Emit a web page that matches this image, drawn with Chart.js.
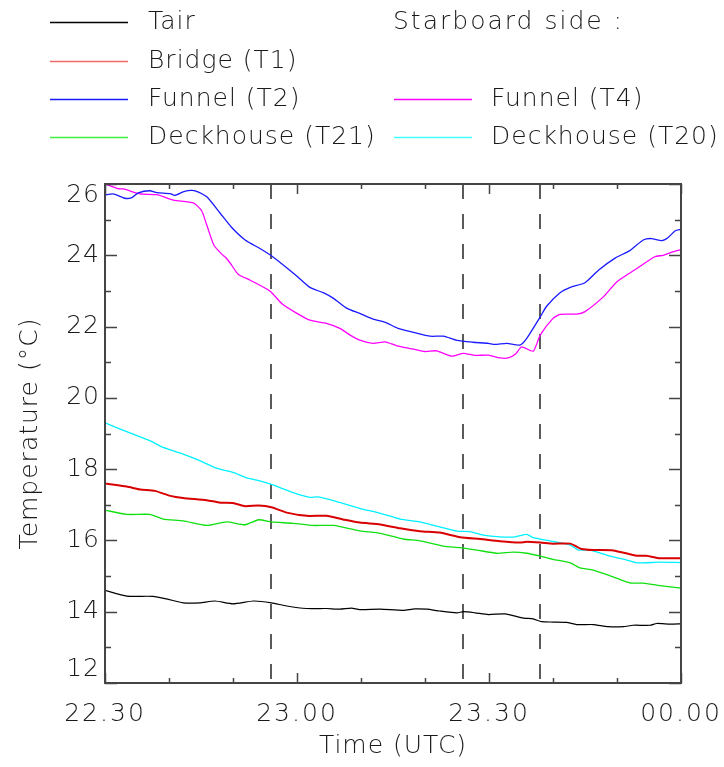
<!DOCTYPE html>
<html>
<head>
<meta charset="utf-8">
<script src="https://cdn.jsdelivr.net/npm/chart.js@4"></script>
<style>
  html, body { margin: 0; padding: 0; background: #fff; }
  canvas { display: block; }
</style>
</head>
<body>
<canvas id="temps" width="724" height="767"></canvas>
<script>
// Datos: minutos desde las 22:30 UTC y temperatura (°C)
const xTickValues = [0, 30, 60, 90];
const xTickLabels = ['22.30', '23.00', '23.30', '00.00'];
const yTickValues = [12, 14, 16, 18, 20, 22, 24, 26];
const markerTimes = [26, 56, 68];

const tairMin = [0, 3.4, 7.5, 9.6, 12.2, 14.8, 17.2, 20.0, 23.2, 26.0, 28.4, 31.5, 34.6, 36.7, 38.5, 39.8, 43.0, 46.6, 48.4, 50.3, 52.3, 55.0, 56.0, 57.8, 59.9, 62.5, 65.4, 66.9, 68.2, 70.0, 72.1, 73.7, 76.3, 78.6, 81.0, 82.5, 85.2, 86.2, 88.3, 90];
const tair = [14.6, 14.44, 14.43, 14.36, 14.25, 14.25, 14.3, 14.22, 14.3, 14.25, 14.16, 14.09, 14.09, 14.07, 14.1, 14.06, 14.07, 14.04, 14.08, 14.07, 14.02, 13.97, 14.0, 13.97, 13.92, 13.94, 13.82, 13.8, 13.72, 13.71, 13.7, 13.64, 13.64, 13.58, 13.58, 13.62, 13.62, 13.67, 13.65, 13.66];

const bridgeMin = [0, 3.4, 5.5, 7.8, 10.2, 12.2, 15.9, 18.0, 20.0, 21.9, 24.0, 26.0, 28.4, 31.5, 34.6, 37.2, 39.8, 43.0, 46.1, 49.2, 52.3, 55.5, 58.6, 61.7, 64.8, 65.9, 68.0, 70.0, 72.7, 74.5, 76.3, 79.4, 83.1, 84.6, 86.7, 90];
const bridgeT1 = [17.6, 17.51, 17.43, 17.39, 17.25, 17.19, 17.13, 17.06, 17.05, 16.96, 16.98, 16.93, 16.78, 16.69, 16.69, 16.59, 16.5, 16.45, 16.34, 16.26, 16.22, 16.09, 16.04, 15.98, 15.94, 15.96, 15.94, 15.91, 15.91, 15.76, 15.73, 15.72, 15.57, 15.57, 15.5, 15.5];

const funnelT2Min = [0, 1.3, 3.1, 4.2, 5.2, 7.0, 8.1, 10.2, 10.9, 12.2, 13.3, 14.1, 15.9, 18.0, 19.8, 21.9, 24.2, 25.9, 27.9, 30.0, 32.0, 34.1, 35.7, 37.8, 39.8, 41.9, 43.8, 45.8, 48.2, 50.8, 52.9, 55.0, 57.5, 59.9, 60.9, 62.8, 64.8, 65.9, 68.0, 69.0, 71.1, 72.7, 75.0, 77.1, 79.7, 82.0, 84.1, 85.4, 87.0, 88.0, 89.1, 90];
const funnelT2 = [25.69, 25.72, 25.6, 25.62, 25.75, 25.81, 25.76, 25.73, 25.68, 25.78, 25.82, 25.81, 25.64, 25.18, 24.78, 24.43, 24.19, 24.0, 23.72, 23.41, 23.1, 22.95, 22.79, 22.51, 22.37, 22.21, 22.12, 21.95, 21.84, 21.73, 21.73, 21.61, 21.56, 21.53, 21.5, 21.53, 21.48, 21.67, 22.27, 22.57, 22.95, 23.1, 23.23, 23.58, 23.92, 24.13, 24.43, 24.47, 24.41, 24.5, 24.69, 24.73];

const funnelT4Min = [0, 2.0, 2.9, 5.5, 8.1, 10.7, 13.8, 15.1, 15.9, 17.0, 18.2, 19.0, 19.8, 20.8, 22.7, 24.2, 25.9, 27.6, 30.0, 32.0, 34.6, 36.7, 38.3, 39.8, 41.9, 43.8, 45.6, 48.2, 50.0, 51.8, 54.2, 56.0, 57.8, 59.9, 61.7, 63.0, 64.1, 65.1, 66.9, 68.0, 70.0, 71.1, 73.7, 75.0, 77.9, 80.0, 83.1, 85.9, 87.2, 88.8, 90];
const funnelT4 = [26.0, 25.87, 25.86, 25.72, 25.7, 25.55, 25.47, 25.25, 24.85, 24.29, 24.04, 23.91, 23.72, 23.47, 23.3, 23.16, 22.98, 22.65, 22.37, 22.18, 22.09, 21.95, 21.76, 21.62, 21.53, 21.57, 21.46, 21.37, 21.3, 21.32, 21.17, 21.25, 21.19, 21.2, 21.12, 21.12, 21.22, 21.43, 21.31, 21.76, 22.23, 22.34, 22.35, 22.42, 22.84, 23.26, 23.63, 23.96, 24.0, 24.1, 24.16];

const deckT21Min = [0, 3.4, 7.0, 9.1, 12.2, 15.9, 19.0, 21.9, 24.0, 26.0, 29.4, 32.5, 35.7, 39.8, 43.0, 46.6, 49.2, 52.9, 55.5, 58.1, 61.2, 63.8, 65.9, 68.0, 70.0, 72.7, 74.2, 76.3, 79.4, 82.0, 84.1, 86.7, 90];
const deckT21 = [16.85, 16.73, 16.73, 16.6, 16.55, 16.42, 16.52, 16.44, 16.58, 16.52, 16.48, 16.42, 16.42, 16.27, 16.2, 16.04, 15.99, 15.84, 15.8, 15.73, 15.64, 15.67, 15.64, 15.56, 15.47, 15.37, 15.23, 15.17, 14.98, 14.81, 14.8, 14.73, 14.66];

const deckT20Min = [0, 3.4, 7.0, 9.1, 12.2, 14.8, 17.5, 20.0, 21.9, 23.7, 26.0, 29.4, 32.0, 33.3, 36.2, 39.8, 43.0, 46.1, 49.2, 52.3, 55.0, 57.0, 59.1, 61.7, 64.1, 65.9, 66.9, 70.0, 72.7, 74.0, 75.8, 78.9, 81.5, 83.1, 86.7, 90];
const deckT20 = [19.3, 19.05, 18.8, 18.61, 18.42, 18.24, 18.02, 17.91, 17.77, 17.69, 17.57, 17.34, 17.21, 17.22, 17.09, 16.9, 16.76, 16.6, 16.52, 16.38, 16.26, 16.25, 16.15, 16.1, 16.1, 16.17, 16.08, 15.97, 15.87, 15.73, 15.73, 15.56, 15.45, 15.37, 15.39, 15.38];

const FONT = '200 25px "DejaVu Sans"';
const INK = '#1a1a1a';

function pts(xs, ys) {
    return xs.map((v, i) => ({ x: v, y: ys[i] }));
}

const series = [
    { label: 'Tair', xs: tairMin, ys: tair, color: '#000000', key: '#000000', width: 1.2 },
    { label: 'Bridge (T1)', xs: bridgeMin, ys: bridgeT1, color: '#d80000', key: '#f06a6a', width: 2 },
    { label: 'Funnel (T2)', xs: funnelT2Min, ys: funnelT2, color: '#1a1aff', key: '#1a1aff', width: 1.3 },
    { label: 'Funnel (T4)', xs: funnelT4Min, ys: funnelT4, color: '#ff00ff', key: '#ff00ff', width: 1.3 },
    { label: 'Deckhouse (T21)', xs: deckT21Min, ys: deckT21, color: '#10e010', key: '#40f040', width: 1.3 },
    { label: 'Deckhouse (T20)', xs: deckT20Min, ys: deckT20, color: '#00f0ff', key: '#40ffff', width: 1.3 }
];

// Líneas discontinuas verticales (detrás de las series)
const markers = {
    id: 'markers',
    beforeDatasetsDraw(chart) {
        const { ctx, chartArea: a, scales: { x } } = chart;
        ctx.save();
        ctx.strokeStyle = '#5a5a5a';
        ctx.lineWidth = 2;
        ctx.setLineDash([15, 15]);
        markerTimes.forEach(t => {
            const px = Math.round(x.getPixelForValue(t));
            ctx.beginPath();
            ctx.moveTo(px, a.top);
            ctx.lineTo(px, a.bottom);
            ctx.stroke();
        });
        ctx.restore();
    }
};

// Marco, marcas, etiquetas y leyenda
const frame = {
    id: 'frame',
    afterDraw(chart) {
        const { ctx, chartArea: a, scales: { x, y } } = chart;
        ctx.save();
        ctx.strokeStyle = '#444';
        ctx.lineWidth = 2;
        ctx.strokeRect(a.left, a.top, a.right - a.left, a.bottom - a.top);

        ctx.lineWidth = 1.5;
        ctx.beginPath();
        for (let m = 0; m <= 90; m += 10) {
            const px = Math.round(x.getPixelForValue(m)) + 0.5;
            const len = m % 30 === 0 ? 10 : 5;
            ctx.moveTo(px, a.bottom); ctx.lineTo(px, a.bottom - len);
            ctx.moveTo(px, a.top); ctx.lineTo(px, a.top + len);
        }
        for (let v = 12; v <= 26; v += 1) {
            const py = Math.round(y.getPixelForValue(v)) + 0.5;
            const len = v % 2 === 0 ? 12 : 6;
            ctx.moveTo(a.left, py); ctx.lineTo(a.left + len, py);
            ctx.moveTo(a.right, py); ctx.lineTo(a.right - len, py);
        }
        ctx.stroke();

        ctx.fillStyle = INK;
        ctx.font = FONT;
        ctx.letterSpacing = '1px';
        ctx.textBaseline = 'middle';
        ctx.textAlign = 'right';
        yTickValues.forEach(v => {
            let py = y.getPixelForValue(v);
            py = Math.min(Math.max(py, a.top + 11), a.bottom - 14);
            ctx.fillText(String(v), a.left - 5, py);
        });
        ctx.textAlign = 'center';
        ctx.letterSpacing = '2px';
        xTickValues.forEach((m, i) => {
            ctx.fillText(xTickLabels[i], x.getPixelForValue(m), 714);
        });
        ctx.letterSpacing = '1px';
        ctx.fillText('Time (UTC)', (a.left + a.right) / 2, 746);

        ctx.save();
        ctx.translate(30, (a.top + a.bottom) / 2);
        ctx.rotate(-Math.PI / 2);
        ctx.fillText('Temperature (°C)', 0, 0);
        ctx.restore();

        // Leyenda
        const rows = [22, 61, 99, 137];
        const place = [
            [0, 0], [0, 1], [0, 2], [1, 2], [0, 3], [1, 3]
        ];
        const colX = [[50, 128, 148], [394, 472, 491]];
        ctx.textAlign = 'left';
        ctx.letterSpacing = '2px';
        ctx.fillText('Starboard side :', 393, rows[0]);
        ctx.letterSpacing = '1px';
        series.forEach((s, i) => {
            const [c, r] = place[i];
            const [x0, x1, tx] = colX[c];
            ctx.strokeStyle = s.key;
            ctx.lineWidth = 1.5;
            ctx.beginPath();
            ctx.moveTo(x0, rows[r] + 0.5);
            ctx.lineTo(x1, rows[r] + 0.5);
            ctx.stroke();
            ctx.fillText(s.label, tx, rows[r]);
        });
        ctx.restore();
    }
};

new Chart(document.getElementById('temps').getContext('2d'), {
    type: 'line',
    data: {
        datasets: series.map(s => ({
            label: s.label,
            data: pts(s.xs, s.ys),
            borderColor: s.color,
            borderWidth: s.width,
            pointRadius: 0,
            tension: 0.2,
            fill: false
        }))
    },
    options: {
        responsive: false,
        animation: false,
        layout: { padding: { left: 105, right: 43, top: 184, bottom: 84 } },
        plugins: { legend: { display: false }, tooltip: { enabled: false } },
        scales: {
            x: { type: 'linear', min: 0, max: 90, display: false },
            y: { type: 'linear', min: 12, max: 26, display: false }
        }
    },
    plugins: [markers, frame]
});
</script>
</body>
</html>
